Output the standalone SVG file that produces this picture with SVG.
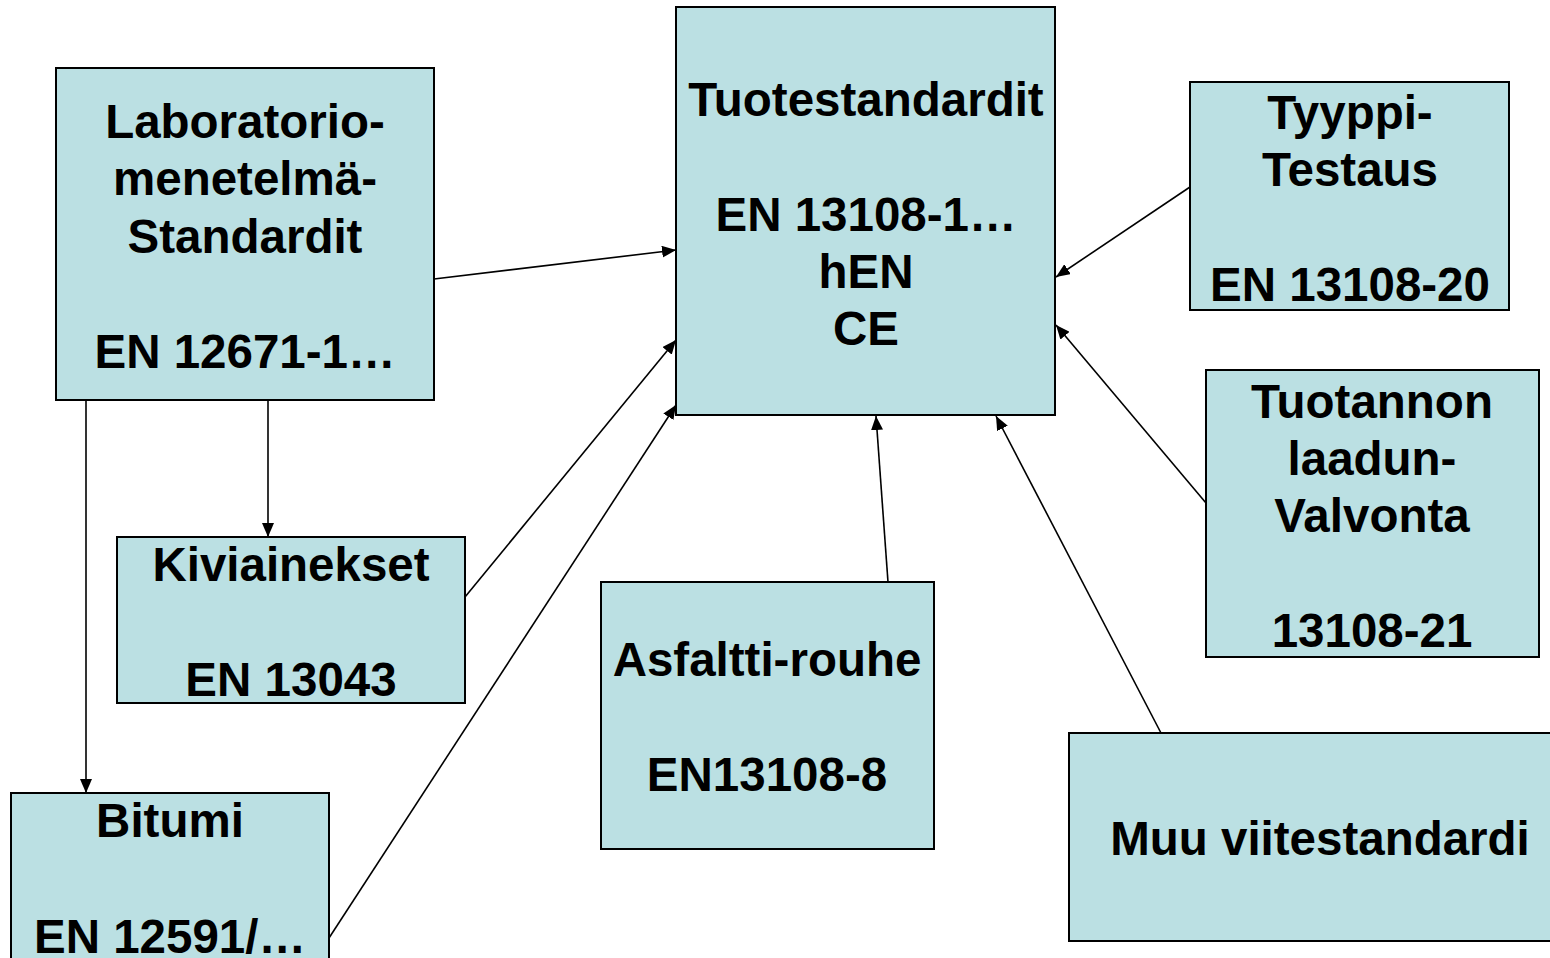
<svg xmlns="http://www.w3.org/2000/svg" width="1550" height="958" viewBox="0 0 1550 958">
<defs>
<style>
.box{fill:#BBE0E3;stroke:#000;stroke-width:2}
.t{font-family:"Liberation Sans",Arial,sans-serif;font-weight:bold;font-size:47.5px;fill:#000;text-anchor:middle}
.c{stroke:#000;stroke-width:1.6;fill:none;marker-end:url(#ah)}
</style>
<marker id="ah" markerUnits="userSpaceOnUse" markerWidth="14" markerHeight="12" refX="14" refY="6" orient="auto">
<path d="M0,0 L14,6 L0,12 Z" fill="#000"/>
</marker>
</defs>
<rect width="1550" height="958" fill="#fff"/>
<g id="connectors">
<line class="c" x1="434" y1="279" x2="676" y2="250"/>
<line class="c" x1="465" y1="597" x2="676" y2="340"/>
<line class="c" x1="329" y1="938" x2="676" y2="405"/>
<line class="c" x1="888" y1="582" x2="876" y2="416"/>
<line class="c" x1="1161" y1="733" x2="996" y2="416"/>
<line class="c" x1="1206" y1="503" x2="1056" y2="325"/>
<line class="c" x1="1190" y1="187" x2="1056" y2="277"/>
<line class="c" x1="268" y1="400" x2="268" y2="537"/>
<line class="c" x1="86" y1="400" x2="86" y2="793"/>
</g>
<g id="tuote">
<rect class="box" x="676" y="7" width="379" height="408"/>
<text class="t" x="866" y="116">Tuotestandardit</text>
<text class="t" x="866" y="231">EN 13108-1…</text>
<text class="t" x="866" y="288">hEN</text>
<text class="t" x="866" y="345">CE</text>
</g>
<g id="lab">
<rect class="box" x="56" y="68" width="378" height="332"/>
<text class="t" x="245" y="137.5">Laboratorio-</text>
<text class="t" x="245" y="195">menetelmä-</text>
<text class="t" x="245" y="252.5">Standardit</text>
<text class="t" x="245" y="367.5">EN 12671-1…</text>
</g>
<g id="tyyppi">
<rect class="box" x="1190" y="82" width="319" height="228"/>
<text class="t" x="1350" y="128.5">Tyyppi-</text>
<text class="t" x="1350" y="186">Testaus</text>
<text class="t" x="1350" y="301">EN 13108-20</text>
</g>
<g id="tuotannon">
<rect class="box" x="1206" y="370" width="333" height="287"/>
<text class="t" x="1372" y="418">Tuotannon</text>
<text class="t" x="1372" y="475">laadun-</text>
<text class="t" x="1372" y="532">Valvonta</text>
<text class="t" x="1372" y="647">13108-21</text>
</g>
<g id="kivi">
<rect class="box" x="117" y="537" width="348" height="166"/>
<text class="t" x="291" y="581">Kiviainekset</text>
<text class="t" x="291" y="696">EN 13043</text>
</g>
<g id="asfaltti">
<rect class="box" x="601" y="582" width="333" height="267"/>
<text class="t" x="767" y="676">Asfaltti-rouhe</text>
<text class="t" x="767" y="791">EN13108-8</text>
</g>
<g id="bitumi">
<rect class="box" x="11" y="793" width="318" height="180"/>
<text class="t" x="170" y="837">Bitumi</text>
<text class="t" x="170" y="953">EN 12591/…</text>
</g>
<g id="muu">
<rect class="box" x="1069" y="733" width="500" height="208"/>
<text class="t" x="1320" y="855">Muu viitestandardi</text>
</g>
</svg>
